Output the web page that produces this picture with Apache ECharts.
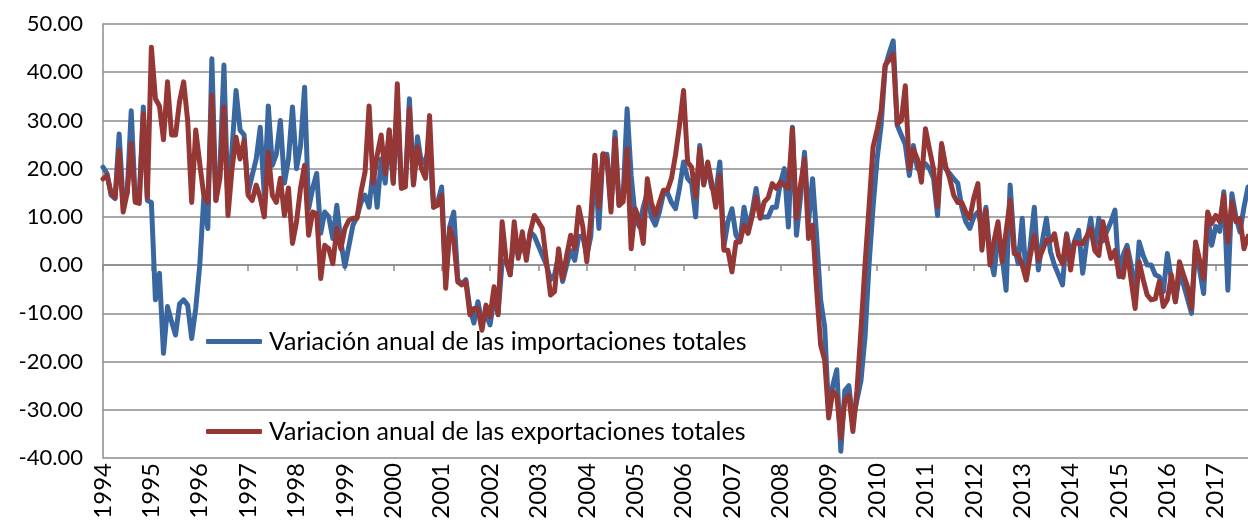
<!DOCTYPE html>
<html>
<head>
<meta charset="utf-8">
<title>Variación anual de importaciones y exportaciones</title>
<script src="https://cdn.jsdelivr.net/npm/echarts@6/dist/echarts.min.js"></script>
<style>
  html, body { margin: 0; padding: 0; background: #fff; }
  #chart { width: 1248px; height: 529px; }
</style>
</head>
<body>
<div id="chart"></div>
<script>
// monthly data, Jan 1994 .. Sep 2017 (one row per year)
var years = [1994, 1995, 1996, 1997, 1998, 1999, 2000, 2001, 2002, 2003, 2004, 2005,
             2006, 2007, 2008, 2009, 2010, 2011, 2012, 2013, 2014, 2015, 2016, 2017];

var importaciones = [
  20.3, 19, 14.5, 13.8, 27.2, 13, 15, 32, 13.4, 14, 32.8, 13.4,
  13, -7.2, -1.7, -18.3, -8.6, -11.7, -14.5, -8, -7.2, -8.3, -15.2, -9,
  0, 14, 7.6, 42.8, 13.4, 20, 41.5, 12, 24, 36.2, 28, 27,
  15, 18.6, 22, 28.6, 14.5, 33, 20.7, 23, 30, 17, 22, 32.8,
  20, 24.8, 36.9, 11.7, 15.9, 19, 6.6, 11, 10, 5.5, 12.4, 4.8,
  -0.3, 4, 8.3, 10, 13, 14.5, 12, 20, 12, 22, 17, 28,
  17, 33, 16.5, 17, 34.5, 17, 26.6, 21, 22, 24, 12, 13,
  16.2, -3, 8, 11, -3, -4, -3, -9, -12, -7.6, -12, -10,
  -12.4, -7, -10, 0.7, 1, -2, 6, 2, 4, 2, 6.9, 6,
  4, 2, 0, -3, -2, 2, -3.4, 0, 3, 1, 6, 6,
  2, 6, 22, 7.6, 23, 23, 12, 27.6, 12.4, 14, 32.4, 18.6,
  10, 8, 12, 15, 10, 8.3, 11, 14.8, 15, 13, 11.7, 16,
  21.4, 18, 17, 10, 24.8, 17, 20.3, 16, 15, 21.4, 3.8, 9,
  11.7, 6.2, 5, 12, 7.6, 11, 15.9, 10, 10, 10, 12, 12,
  17, 20, 7.9, 28.6, 6.2, 14, 23.4, 9, 17.9, 6, -7.2, -12.8,
  -30.7, -25, -21.7, -38.6, -26, -25, -32.4, -28, -24, -15, 0, 12,
  22, 29, 41, 44, 46.5, 29, 27, 25, 18.6, 24.8, 20, 21,
  21, 20, 18, 10.3, 24.8, 20, 19, 17.9, 17, 12, 9, 7.6,
  10, 11, 8, 12, 2, -2, 6, 2, -5.2, 16.6, 4, 0.3,
  9.7, -2.8, 4, 12, -1, 5, 9.7, 2.8, 0, -2, -4.1, 6.5,
  2, 5, 7.2, -1.7, 5, 9.7, 3.4, 9.7, 5, 7, 9, 11.4,
  -2.4, 2, 4.1, 0, -6.6, 4.8, 2, 0, 0, -2, -2.4, -5.5,
  2.4, -3, -7.6, -2, -4, -7, -10, 4.1, -1, -5.9, 10.3, 4.1,
  8, 7, 15.2, -5.2, 14.8, 10, 6.9, 12, 16.2
];

var exportaciones = [
  17.9, 18.6, 15, 14, 23.8, 11, 15, 25.2, 13, 12.8, 31.4, 14,
  45.2, 34.5, 33, 26, 38, 27, 27, 34, 38, 30, 13, 28,
  21, 14.5, 13, 35.2, 13.4, 18, 32.8, 10.3, 20, 26.5, 22, 25.9,
  14.5, 13.4, 16.6, 14, 10, 23.4, 14.5, 13, 18, 10.3, 16, 4.5,
  9, 16, 20.7, 6.2, 11, 10.7, -2.8, 4.1, 3.4, 0.3, 7.6, 3.4,
  7.6, 9.3, 9.7, 9.7, 15.2, 19.3, 33, 17, 22.8, 27, 19, 28,
  17, 37.6, 15.9, 16.2, 32.4, 16.6, 24.5, 20, 18, 31, 12, 12.4,
  14.5, -4.8, 7.6, 5, -3.5, -4.1, -3.4, -10.3, -9, -9, -13.5, -8.3,
  -10.7, -4.5, -10.3, 9, 1, -2, 9, 1.4, 6.9, 1, 7, 10.3,
  9, 7.6, 0.7, -6.2, -5.5, 3.4, -2.8, 2, 6.2, 3.4, 12, 8,
  0.7, 10, 22.8, 12, 23.1, 22, 11, 26.2, 12.4, 13.1, 24.1, 3.4,
  11.7, 9.5, 4.5, 17.9, 13, 10.3, 13, 15.5, 15.5, 18, 22.8, 29,
  36.2, 21.4, 20.3, 14.1, 24.1, 16.6, 21.4, 17, 12, 18.6, 3.1, 3.1,
  -1.4, 4.8, 4.8, 8.3, 6.6, 10, 14.1, 9.7, 13.1, 14, 16.9, 15.9,
  17.2, 16.5, 15.9, 28.3, 9.7, 16.6, 22, 5.5, 8.3, -5, -16.6, -19.7,
  -31.7, -26.2, -27, -35.9, -28, -27, -34.5, -26, -13.5, 0, 12, 24.5,
  28, 32, 41.5, 42.5, 43.8, 29.3, 30, 37.2, 20, 24, 22, 17.2,
  28.3, 24, 20, 12.1, 25.2, 20.5, 18, 14.5, 13, 13, 11, 9.7,
  14, 16.9, 3.1, 11.4, 0, 5, 9, 0.7, 7, 13.4, 2.4, 2.1,
  0, -3.1, 2, 6.2, 1, 3, 5.2, 5, 6.5, 2, 0.3, 6.2,
  -1, 4.8, 4.5, 4.5, 6, 7.6, 3, 2, 9, 5, 1.4, 3,
  -2, -2.5, 3.1, -3, -9, 0.7, -3, -6.2, -7.2, -7, -3.4, -8.6,
  -7.2, -2, -7.6, 0.7, -2, -4.5, -9, 4.8, 1, -2.8, 11, 8.6,
  10.3, 9, 14.5, 4.8, 13.1, 9, 9.7, 3.4, 6
];

var nameImp = 'Variación anual de las importaciones totales';
var nameExp = 'Variacion anual de las exportaciones totales';

// month categories "1994-01" ...
var meses = [];
for (var i = 0; i < importaciones.length; i++) {
  var y = years[Math.floor(i / 12)];
  var m = (i % 12) + 1;
  meses.push(y + '-' + (m < 10 ? '0' + m : m));
}

function isYearStart(index) { return index % 12 === 0; }

var font = 'Lato, "Noto Sans", sans-serif';
var gridColor = '#8c8c8c';
var blue = '#3a67a0';
var red = '#953735';

var chart = echarts.init(document.getElementById('chart'));
var option = {
  animation: false,
  backgroundColor: '#fff',
  grid: { left: 103, right: 0, top: 24, bottom: 71 },
  legend: [
    {
      data: [nameImp], left: 206, top: 329, padding: 0,
      icon: 'roundRect', itemWidth: 56, itemHeight: 5, itemGap: 0,
      textStyle: { fontSize: 25, color: '#000', fontFamily: font, padding: [0, 0, 0, 2] }
    },
    {
      data: [nameExp], left: 206, top: 419, padding: 0,
      icon: 'roundRect', itemWidth: 56, itemHeight: 5, itemGap: 0,
      textStyle: { fontSize: 25, color: '#000', fontFamily: font, padding: [0, 0, 0, 2] }
    }
  ],
  xAxis: {
    type: 'category',
    data: meses,
    boundaryGap: false,
    axisLine: { lineStyle: { color: gridColor, width: 1.5 } },
    axisTick: { show: true, interval: isYearStart, length: 6, lineStyle: { color: gridColor, width: 1.5 } },
    axisLabel: {
      interval: isYearStart,
      rotate: 90,
      margin: 5,
      fontSize: 24,
      color: '#000',
      fontFamily: font,
      formatter: function (v) { return v.slice(0, 4); }
    },
    splitLine: { show: false }
  },
  yAxis: {
    type: 'value',
    min: -40, max: 50, interval: 10,
    axisLine: { show: true, lineStyle: { color: gridColor, width: 1.5 } },
    axisTick: { show: false },
    axisLabel: {
      margin: 20, fontSize: 22, color: '#000', fontFamily: font,
      formatter: function (v) { return v.toFixed(2); }
    },
    splitLine: { show: true, lineStyle: { color: gridColor, width: 1.5 } }
  },
  series: [
    {
      name: nameImp, type: 'line', data: importaciones,
      symbol: 'none', color: blue,
      lineStyle: { width: 5, color: blue, join: 'round', cap: 'round' },
      emphasis: { disabled: true }
    },
    {
      name: nameExp, type: 'line', data: exportaciones,
      symbol: 'none', color: red,
      lineStyle: { width: 5, color: red, join: 'round', cap: 'round' },
      emphasis: { disabled: true }
    }
  ]
};
chart.setOption(option);
</script>
</body>
</html>
